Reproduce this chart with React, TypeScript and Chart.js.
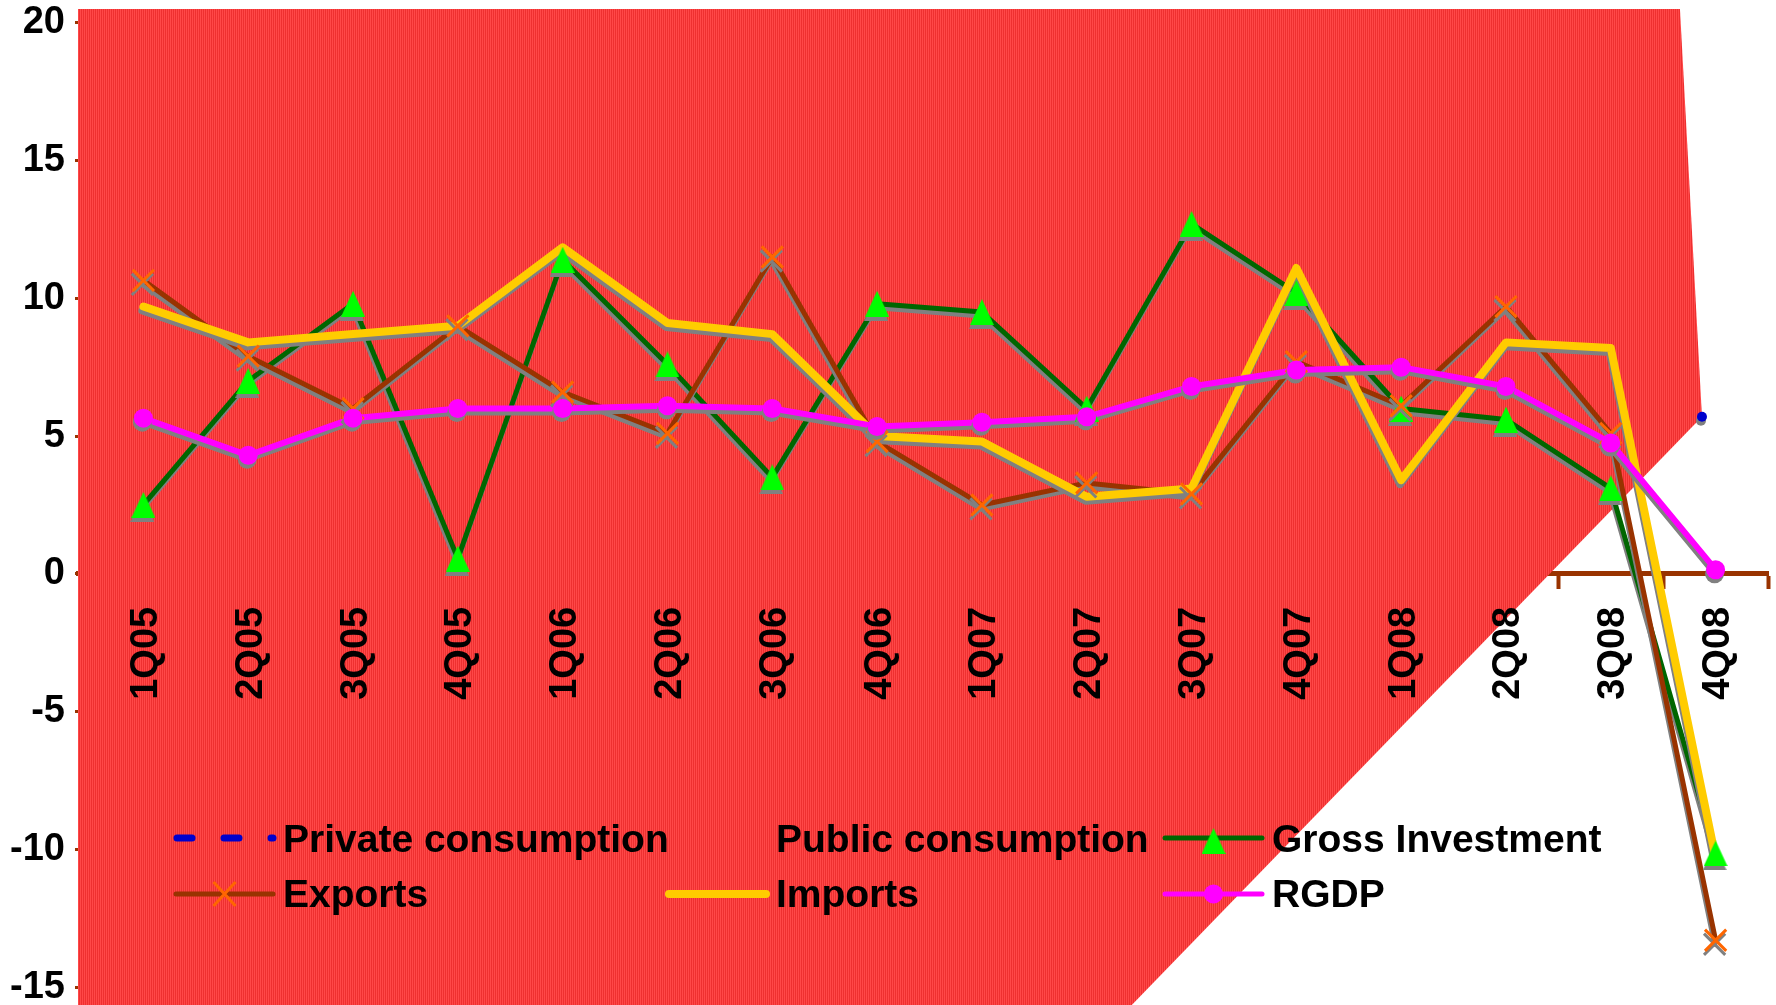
import React, { useEffect, useRef } from 'react';
import { Chart, registerables } from 'chart.js';

Chart.register(...registerables);

// ---------------- data ----------------
const quarters = ['1Q05', '2Q05', '3Q05', '4Q05', '1Q06', '2Q06', '3Q06', '4Q06', '1Q07', '2Q07', '3Q07', '4Q07', '1Q08', '2Q08', '3Q08', '4Q08'];
const grossInvestment = [2.5, 7.0, 9.8, 0.55, 11.4, 7.6, 3.5, 9.8, 9.5, 6.0, 12.7, 10.2, 6.0, 5.6, 3.1, -10.15];
const exportsGrowth = [10.65, 7.9, 6.0, 9.0, 6.6, 5.1, 11.5, 4.8, 2.5, 3.3, 2.9, 7.7, 6.1, 9.7, 5.1, -13.3];
const importsGrowth = [9.7, 8.4, 8.7, 9.0, 11.85, 9.1, 8.7, 5.0, 4.8, 2.8, 3.1, 11.1, 3.4, 8.4, 8.2, -10.3];
const rgdp = [5.65, 4.3, 5.65, 6.0, 6.0, 6.1, 6.0, 5.35, 5.5, 5.7, 6.8, 7.4, 7.5, 6.8, 4.75, 0.15];
const publicConsumption: (number | null)[] = [null, null, null, null, null, null, null, null, null, null, null, null, null, null, null, null];
const privateConsumptionX = [14.87];
const privateConsumption = [5.7];
const redAreaX = [-0.624, 14.66, 14.87, 9.43, -0.624];
const redAreaY = [20.5, 20.5, 5.7, -15.65, -15.65];
const yTicks = [-15, -10, -5, 0, 5, 10, 15, 20];
const xTickMarks = [-0.5, 0.5, 1.5, 2.5, 3.5, 4.5, 5.5, 6.5, 7.5, 8.5, 9.5, 10.5, 11.5, 12.5, 13.5, 14.5, 15.5];

// ---------------- styles ----------------
const BROWN = '#993300';
const BLUE = '#0000CC';
const DKGREEN = '#006600';
const LTGREEN = '#00FF00';
const ORANGE = '#FF6600';
const YELLOW = '#FFCC00';
const MAGENTA = '#FF00FF';
const FONT = '"Liberation Sans", Arial, sans-serif';

const toXY = (vals: (number | null)[]) => vals.map((v, i) => ({ x: i, y: v }));

function makeTriangle(): HTMLCanvasElement {
  const c = document.createElement('canvas');
  c.width = 24;
  c.height = 26;
  const g = c.getContext('2d')!;
  g.fillStyle = LTGREEN;
  g.beginPath();
  g.moveTo(12, 0);
  g.lineTo(24, 26);
  g.lineTo(0, 26);
  g.closePath();
  g.fill();
  return c;
}

function makeStripes(ctx: CanvasRenderingContext2D): CanvasPattern | string {
  const c = document.createElement('canvas');
  c.width = 2;
  c.height = 2;
  const g = c.getContext('2d')!;
  g.fillStyle = '#ff4848';
  g.fillRect(0, 0, 1, 2);
  g.fillStyle = '#ee3030';
  g.fillRect(1, 0, 1, 2);
  return ctx.createPattern(c, 'repeat') || '#f83c3c';
}

const zeroPadding = (s: any) => {
  s.paddingTop = 0;
  s.paddingBottom = 0;
  s.paddingLeft = 0;
  s.paddingRight = 0;
};

const shadowPlugin = {
  id: 'grayShadow',
  beforeDatasetDraw(chart: any, args: any) {
    const ds = chart.data.datasets[args.index];
    if (ds.shadow) {
      const c = chart.ctx;
      c.save();
      c.shadowColor = '#808080';
      c.shadowOffsetX = -1;
      c.shadowOffsetY = 4;
      c.shadowBlur = 0;
    }
  },
  afterDatasetDraw(chart: any, args: any) {
    const ds = chart.data.datasets[args.index];
    if (ds.shadow) chart.ctx.restore();
  },
};

export default function App() {
  const ref = useRef<HTMLCanvasElement | null>(null);

  useEffect(() => {
    const canvas = ref.current!;
    const ctx = canvas.getContext('2d')!;
    const tri = makeTriangle();
    const stripes = makeStripes(ctx);

    const legendPlugin = {
      id: 'customLegend',
      afterDraw(chart: any) {
        const c = chart.ctx;
        c.save();
        const colX = [176, 669, 1165];
        const symLen = 97;
        const rowY = [838, 894];
        const baseY = [852, 907];
        const entries = [
          { label: 'Private consumption', col: 0, row: 0, kind: 'private' },
          { label: 'Public consumption', col: 1, row: 0, kind: 'none' },
          { label: 'Gross Investment', col: 2, row: 0, kind: 'gross' },
          { label: 'Exports', col: 0, row: 1, kind: 'exports' },
          { label: 'Imports', col: 1, row: 1, kind: 'imports' },
          { label: 'RGDP', col: 2, row: 1, kind: 'rgdp' },
        ];
        for (const e of entries) {
          const x0 = colX[e.col];
          const x1 = x0 + symLen;
          const y = rowY[e.row];
          const xm = (x0 + x1) / 2;
          c.save();
          c.lineCap = 'round';
          if (e.kind === 'private') {
            c.strokeStyle = BLUE;
            c.lineWidth = 7;
            c.setLineDash([15, 32]);
            c.beginPath();
            c.moveTo(x0 + 1, y);
            c.lineTo(x1, y);
            c.stroke();
          } else if (e.kind === 'gross') {
            c.strokeStyle = DKGREEN;
            c.lineWidth = 5;
            c.beginPath();
            c.moveTo(x0, y);
            c.lineTo(x1, y);
            c.stroke();
            c.drawImage(tri, xm - 12, y - 10);
          } else if (e.kind === 'exports') {
            c.strokeStyle = BROWN;
            c.lineWidth = 5;
            c.beginPath();
            c.moveTo(x0, y);
            c.lineTo(x1, y);
            c.stroke();
            c.strokeStyle = ORANGE;
            c.lineWidth = 3;
            c.lineCap = 'butt';
            c.beginPath();
            c.moveTo(xm - 11, y - 12);
            c.lineTo(xm + 11, y + 12);
            c.moveTo(xm + 11, y - 12);
            c.lineTo(xm - 11, y + 12);
            c.stroke();
          } else if (e.kind === 'imports') {
            c.strokeStyle = YELLOW;
            c.lineWidth = 8;
            c.beginPath();
            c.moveTo(x0, y);
            c.lineTo(x1, y);
            c.stroke();
          } else if (e.kind === 'rgdp') {
            c.strokeStyle = MAGENTA;
            c.lineWidth = 5;
            c.beginPath();
            c.moveTo(x0, y);
            c.lineTo(x1, y);
            c.stroke();
            c.fillStyle = MAGENTA;
            c.beginPath();
            c.arc(xm, y, 9.5, 0, Math.PI * 2);
            c.fill();
          }
          c.restore();
          c.fillStyle = '#000';
          c.font = `bold 39px ${FONT}`;
          c.textAlign = 'left';
          c.textBaseline = 'alphabetic';
          c.fillText(e.label, x0 + 107, baseY[e.row]);
        }
        c.restore();
      },
    };

    const lineBase = { pointRadius: 0, pointHoverRadius: 0, fill: false, tension: 0, borderJoinStyle: 'round', borderCapStyle: 'round', shadow: true };
    const markerBase = { showLine: false, fill: false, shadow: true, pointHoverRadius: 0 };

    const chart = new Chart(canvas, {
      type: 'line',
      data: {
        datasets: [
          // red background area
          {
            label: 'area',
            data: redAreaX.map((x, i) => ({ x, y: redAreaY[i] })),
            borderColor: 'transparent',
            borderWidth: 0,
            backgroundColor: stripes as any,
            fill: 'shape',
            pointRadius: 0,
            order: 100,
          } as any,
          {
            label: 'Private consumption',
            data: privateConsumptionX.map((x, i) => ({ x, y: privateConsumption[i] })),
            borderColor: BLUE,
            borderDash: [15, 32],
            borderWidth: 7,
            showLine: true,
            pointStyle: 'circle',
            pointRadius: 5,
            pointBackgroundColor: BLUE,
            pointBorderColor: BLUE,
            pointBorderWidth: 0,
            shadow: true,
            order: 30,
          } as any,
          {
            label: 'Public consumption',
            data: toXY(publicConsumption),
            borderColor: 'transparent',
            borderWidth: 0,
            pointRadius: 0,
            order: 29,
          } as any,
          { ...lineBase, label: 'Gross Investment', data: toXY(grossInvestment), borderColor: DKGREEN, borderWidth: 5, order: 14 } as any,
          { ...lineBase, label: 'Exports', data: toXY(exportsGrowth), borderColor: BROWN, borderWidth: 5, order: 13 } as any,
          { ...lineBase, label: 'Imports', data: toXY(importsGrowth), borderColor: YELLOW, borderWidth: 8, order: 12 } as any,
          { ...lineBase, label: 'RGDP', data: toXY(rgdp), borderColor: MAGENTA, borderWidth: 6, order: 11 } as any,
          { ...markerBase, label: 'Gross Investment markers', data: toXY(grossInvestment), pointStyle: tri, pointRadius: 13, order: 4 } as any,
          { ...markerBase, label: 'Exports markers', data: toXY(exportsGrowth), pointStyle: 'crossRot', pointRadius: 15, pointBorderColor: ORANGE, pointBorderWidth: 3, pointBackgroundColor: ORANGE, order: 3 } as any,
          { ...markerBase, label: 'RGDP markers', data: toXY(rgdp), pointStyle: 'circle', pointRadius: 9.5, pointBorderWidth: 0, pointBackgroundColor: MAGENTA, pointBorderColor: MAGENTA, order: 1 } as any,
        ],
      },
      options: {
        animation: false,
        responsive: false,
        maintainAspectRatio: false,
        events: [],
        layout: { autoPadding: false, padding: { top: 9, right: 8, bottom: 0, left: 0 } },
        plugins: { legend: { display: false }, tooltip: { enabled: false } },
        scales: {
          x: {
            type: 'linear',
            position: { y: 0 } as any,
            min: -0.624,
            max: 15.5,
            afterBuildTicks: (s: any) => {
              s.ticks = xTickMarks.map((v) => ({ value: v }));
            },
            afterFit: zeroPadding,
            ticks: { display: false, autoSkip: false },
            grid: { drawOnChartArea: false, drawTicks: true, tickLength: 13, tickColor: BROWN, tickWidth: 4 },
            border: { display: true, color: BROWN, width: 5 },
          } as any,
          xl: {
            type: 'linear',
            axis: 'x',
            position: { y: 0 } as any,
            min: -0.624,
            max: 15.5,
            afterBuildTicks: (s: any) => {
              s.ticks = quarters.map((_, i) => ({ value: i }));
            },
            afterFit: zeroPadding,
            ticks: {
              z: 1,
              autoSkip: false,
              minRotation: 90,
              maxRotation: 90,
              padding: 25,
              labelOffset: 3,
              color: '#000',
              font: { family: FONT, size: 38, weight: 'bold' },
              callback: (v: any) => quarters[Math.round(Number(v))] ?? '',
            },
            grid: { display: false },
            border: { display: false },
          } as any,
          y: {
            type: 'linear',
            position: 'left',
            min: -15.65,
            max: 20.5,
            afterBuildTicks: (s: any) => {
              s.ticks = yTicks.map((v) => ({ value: v }));
            },
            afterFit: (s: any) => {
              s.width = 78;
              zeroPadding(s);
            },
            ticks: {
              padding: 10,
              color: '#000',
              font: { family: FONT, size: 38, weight: 'bold' },
              callback: (v: any) => String(v),
            },
            grid: { drawOnChartArea: false, drawTicks: true, tickLength: 3, tickColor: BROWN, tickWidth: 3 },
            border: { display: false },
          } as any,
        },
      } as any,
      plugins: [shadowPlugin, legendPlugin],
    });

    return () => chart.destroy();
  }, []);

  return (
    <div style={{ position: 'fixed', left: 0, top: 0, width: 1776, height: 1005, background: '#fff' }}>
      <canvas ref={ref} width={1776} height={1005} style={{ display: 'block' }} />
    </div>
  );
}
